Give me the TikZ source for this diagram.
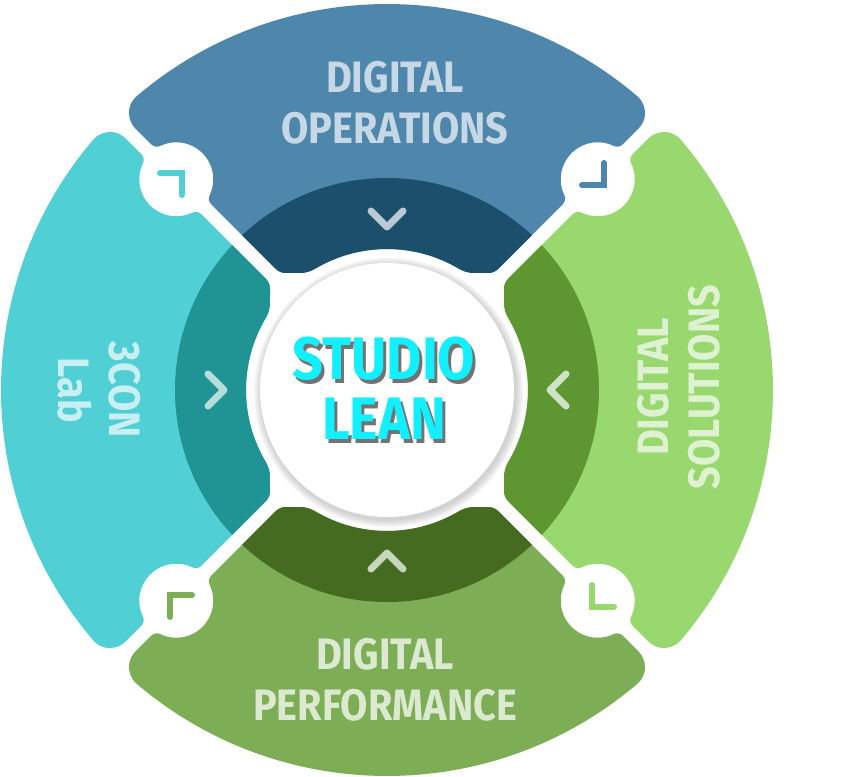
\documentclass[tikz,border=0pt]{standalone}
\usepackage{fontspec}
\newfontfamily\dinfont{Fira Sans}[FakeStretch=0.9]
\definecolor{opsL}{HTML}{4E87AB}
\definecolor{opsD}{HTML}{1B4F6B}
\definecolor{opsC}{HTML}{B9CAD5}
\definecolor{opsT}{HTML}{C6D8E6}
\definecolor{labL}{HTML}{50CFD4}
\definecolor{labD}{HTML}{209494}
\definecolor{labC}{HTML}{B6DCDC}
\definecolor{labT}{HTML}{C8EFF1}
\definecolor{perfL}{HTML}{7DAD55}
\definecolor{perfD}{HTML}{446B20}
\definecolor{perfC}{HTML}{C6D6BD}
\definecolor{perfT}{HTML}{DCE9D1}
\definecolor{solL}{HTML}{98D86E}
\definecolor{solD}{HTML}{5E9732}
\definecolor{solC}{HTML}{CFE4C4}
\definecolor{solT}{HTML}{DEF2D1}
\definecolor{studio}{HTML}{12F0FF}
% one quarter of the ring, drawn for the top and turned for the others
\newcommand\segpath{(130.43:386) arc[start angle=130.43, end angle=49.57, radius=386]
  arc[start angle=49.57, end angle=-45, radius=22] -- (235.77,245.67)
  arc[start angle=-45, end angle=-115.53, radius=8]
  arc[start angle=64.47, end angle=205.53, radius=37]
  arc[start angle=25.53, end angle=-45, radius=8] -- (111.20,121.10)
  arc[start angle=-45, end angle=-90, radius=14] -- (87.36,117)
  arc[start angle=-90, end angle=-120.72, radius=30]
  arc[start angle=59.28, end angle=120.72, radius=141]
  arc[start angle=300.72, end angle=270, radius=30] -- (-101.30,117)
  arc[start angle=270, end angle=225, radius=14] -- (-175.77,185.66)
  arc[start angle=225, end angle=154.47, radius=8]
  arc[start angle=-25.53, end angle=115.53, radius=37]
  arc[start angle=295.53, end angle=225, radius=8] -- (-251.62,261.51)
  arc[start angle=225, end angle=130.43, radius=22] -- cycle}
% grey copy under a word, for its shadow
\newcommand\shadowed[1]{%
  \makebox[0pt][l]{\kern3pt\raisebox{-4pt}{\color{black!55}#1}}#1}

\begin{document}
\begin{tikzpicture}[x=1pt,y=1pt,
    chevron/.style={line width=7, line cap=round, line join=round},
    bracket/.style={line width=6, line cap=round, line join=miter},
    seglabel/.style={font=\dinfont\bfseries\fontsize{44}{51}\selectfont, align=center, inner sep=0pt},
    centre text/.style={font=\dinfont\bfseries\fontsize{60}{60}\selectfont, align=center, inner sep=0pt}]
  \useasboundingbox (-387,-386) rectangle (471,390);
  \foreach \rot/\lc/\dc/\cc in {0/opsL/opsD/opsC, 90/labL/labD/labC, 180/perfL/perfD/perfC, 270/solL/solD/solC} {
    \begin{scope}[rotate=\rot]
      \fill[\lc] \segpath;
      \begin{scope}
        \clip \segpath;
        \fill[\dc] (0,0) circle[radius=212];
      \end{scope}
      \draw[chevron, \cc] (-16,179) -- (0,163) -- (16,179);
      \draw[bracket, \lc] (195,205) -- (217,205) -- (217,227);
    \end{scope}
  }
  % soft shadow round the middle disc
  \foreach \k in {1,...,8}
    \fill[black, opacity=0.025] (1.5,-2.5) circle[radius=127+\k];
  \fill[white] (0,0) circle[radius=127];
  \node[centre text, text=studio] (centre) at (-3,0) {\shadowed{STUDIO}\\\shadowed{LEAN}};
  \node[seglabel, text=opsT] (ops) at (8,287) {DIGITAL\\OPERATIONS};
  \node[seglabel, text=solT, rotate=90] (sol) at (292,3) {DIGITAL\\SOLUTIONS};
  \node[seglabel, text=perfT] (perf) at (-2,-290) {DIGITAL\\PERFORMANCE};
  \node[seglabel, text=labT, rotate=-90] (lab) at (-288,0) {3CON\\Lab};
\end{tikzpicture}
\end{document}
